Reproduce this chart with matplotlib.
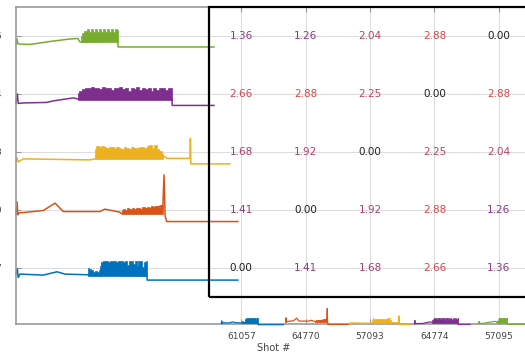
import numpy as np
import matplotlib
matplotlib.use("Agg")
import matplotlib.pyplot as plt
from matplotlib.colors import LinearSegmentedColormap
from matplotlib.patches import Rectangle

# shots, bottom row / left column first
shots = ['61057', '64770', '57093', '64774', '57095']
colors = ['#0072BD', '#D95319', '#EDB120', '#7E2F8E', '#77AC30']

# distance matrix, rows bottom -> top, columns left -> right
dist = [[0.00, 1.41, 1.68, 2.66, 1.36],
        [1.41, 0.00, 1.92, 2.88, 1.26],
        [1.68, 1.92, 0.00, 2.25, 2.04],
        [2.66, 2.88, 2.25, 0.00, 2.88],
        [1.36, 1.26, 2.04, 2.88, 0.00]]

# traces: time (s) and signal (a.u.), plus burst windows (t0, t1, bottom, tops)
blue_t = [0, 0.06, 0.1, 0.18, 1.23, 1.85, 2.21, 3.24, 5.9, 5.91, 10.0]
blue_a = [-0.6, -0.1, -0.97, -0.63, -0.73, -0.4, -0.63, -0.7, -0.8, -1.23, -1.23]
blue_bursts = [(3.24, 3.78, -0.8, [-0.05, -0.1, -0.2, -0.45, -0.3, -0.4, -0.25]),
               (3.78, 5.9, -0.8, [0.2, 0.55, 0.7, 0.65, 0.7, 0.6, 0.7, 0.65, 0.7, 0.6,
                                  0.7, 0.65, 0.7, 0.6, 0.7, 0.3, 0.7, 0.65, 0.35, 0.7,
                                  0.2, 0.65, 0.7, 0.1, 0.6, 0.65])]

orange_t = [0, 0.05, 0.08, 0.12, 0.33, 1.23, 1.76, 2.13, 3.78, 4.0, 4.68, 4.77,
            6.62, 6.67, 6.72, 6.79, 10.0]
orange_a = [-0.4, 0.8, -0.5, -0.3, -0.27, -0.07, 0.67, -0.17, -0.17, 0.07, -0.23, -0.4,
            0.4, 3.5, -0.6, -1.17, -1.17]
orange_bursts = [(4.77, 6.62, -0.45, [-0.05, 0.1, 0.0, 0.15, 0.05, 0.2, 0.1, 0.15, 0.2,
                                      0.1, 0.25, 0.15, 0.3, 0.2, 0.35, 0.25, 0.4, 0.3,
                                      0.45, 0.5])]

yellow_t = [0, 0.05, 0.1, 0.33, 3.33, 3.56, 6.62, 6.71, 6.8, 7.84, 7.86, 7.88, 9.64]
yellow_a = [-0.95, -0.6, -1.0, -0.7, -0.8, -0.7, -0.4, -0.5, -0.65, -0.65, 1.35, -1.2, -1.2]
yellow_bursts = [(3.56, 6.62, -0.75, [0.3, 0.6, 0.45, 0.55, 0.5, 0.4, 0.5, 0.45, 0.35,
                                      0.5, 0.4, 0.3, 0.45, 0.35, 0.3, 0.45, 0.4, 0.35,
                                      0.5, 0.45, 0.4, 0.55, 0.7, 0.35, 0.65, 0.3, 0.1,
                                      -0.2])]

purple_t = [0, 0.06, 0.1, 0.33, 1.38, 1.67, 2.57, 2.79, 7.03, 7.04, 8.92]
purple_a = [-0.95, 0.0, -0.95, -0.9, -0.85, -0.7, -0.4, -0.5, -0.5, -1.15, -1.15]
purple_bursts = [(2.79, 7.03, -0.6, [0.1, 0.3, 0.5, 0.6, 0.55, 0.65, 0.55, 0.6, 0.5,
                                     0.65, 0.55, 0.6, 0.4, 0.6, 0.55, 0.65, 0.45, 0.6,
                                     0.3, 0.6, 0.5, 0.65, 0.35, 0.6, 0.5, 0.55, 0.3,
                                     0.6, 0.4, 0.55, 0.6, 0.35, 0.55, 0.6])]

green_t = [0, 0.05, 0.09, 0.63, 1.53, 2.43, 2.79, 2.88, 2.95, 4.59, 4.6, 8.92]
green_a = [-0.8, -0.3, -0.8, -0.85, -0.55, -0.3, -0.25, -0.6, -0.6, -0.5, -1.1, -1.1]
green_bursts = [(2.95, 4.59, -0.6, [0.0, 0.25, 0.45, 0.7, 0.35, 0.7, 0.4, 0.7, 0.35,
                                    0.7, 0.4, 0.7, 0.35, 0.7, 0.4, 0.7, 0.35, 0.7, 0.6])]

traces = [(blue_t, blue_a, blue_bursts), (orange_t, orange_a, orange_bursts),
          (yellow_t, yellow_a, yellow_bursts), (purple_t, purple_a, purple_bursts),
          (green_t, green_a, green_bursts)]

fig = plt.figure(figsize=(5.25, 3.53), dpi=100)
ax = fig.add_axes([16 / 525, 29 / 353, 515 / 525, 317 / 353])
ax.set_xlim(-3.5, 4.5)
ax.set_ylim(-0.97, 4.5)


def draw(t, a, bursts, color, x0, sx, y0, sy, lw, z):
    ax.plot(x0 + np.array(t) * sx, y0 + np.array(a) * sy, color=color, lw=lw,
            zorder=z, clip_on=False)
    for b0, b1, bot, tops in bursts:
        xb = x0 + np.linspace(b0, b1, len(tops)) * sx
        yt = y0 + np.array(tops) * sy
        ax.fill_between(xb, y0 + bot * sy, yt, step='mid', color=color, lw=0.5,
                        zorder=z, clip_on=False)


for i, (t, a, bursts) in enumerate(traces):
    # big offset trace on the left
    draw(t, a, bursts, colors[i], -3.5, 0.3447, i, 0.1726, 1.1, 2)
    # small copy along the bottom, under its column
    draw(t, a, bursts, colors[i], i - 0.31, 0.0967, -0.91, 0.0587, 0.9, 3)

# distance matrix numbers
cmap = LinearSegmentedColormap.from_list('dist', ['#1e1e1e', '#7a3590', '#b0406a', '#d84848'])
vmax = max(max(r) for r in dist)
for r in range(len(dist)):
    for c in range(len(dist[r])):
        v = dist[r][c]
        ax.text(c, r, f"{v:.2f}", ha='center', va='center', fontsize=7.5,
                color=cmap(v / vmax), zorder=4)

ax.add_patch(Rectangle((-0.5, -0.5), 5, 5, fill=False, ec='black', lw=1.6,
                       zorder=5, clip_on=False))

ax.set_xticks(range(len(shots)))
ax.set_xticklabels(shots)
ax.set_yticks(range(len(shots)))
ax.set_yticklabels(shots)
ax.tick_params(direction='in', length=3.5, color='#999999', labelsize=6.5,
               labelcolor='#444444', top=True)
ax.tick_params(axis='x', pad=6)
ax.tick_params(axis='y', pad=10)
ax.set_xlabel("Shot #", fontsize=7, color='#444444', labelpad=1)
ax.grid(True, color='#dddddd', lw=0.8)
ax.set_axisbelow(True)
for s in ax.spines.values():
    s.set_color('#999999')
    s.set_linewidth(1.2)

fig.savefig("out.png", dpi=100)
